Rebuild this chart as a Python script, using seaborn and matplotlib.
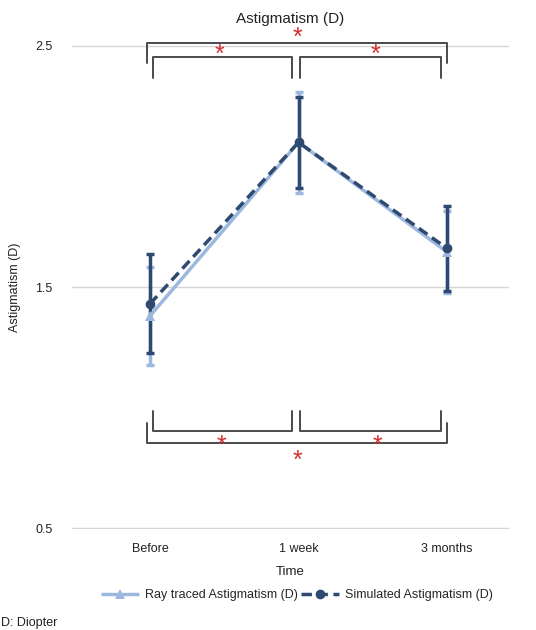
import matplotlib
matplotlib.use("Agg")
import matplotlib.pyplot as plt
import seaborn as sns
import pandas as pd

# values
times = ["Before", "1 week", "3 months"]
ray_mean = [1.38, 2.10, 1.645]
ray_sd = [0.205, 0.21, 0.17]
sim_mean = [1.43, 2.10, 1.66]
sim_sd = [0.205, 0.19, 0.175]
series_names = ["Ray traced Astigmatism (D)", "Simulated Astigmatism (D)"]
y_ticks = [0.5, 1.5, 2.5]

light = "#9db8de"
dark = "#2f4a70"

df = pd.DataFrame({
    "Time": times * 2,
    "value": ray_mean + sim_mean,
    "series": [series_names[0]] * 3 + [series_names[1]] * 3,
})

sns.set_theme(style="white")
plt.rcParams["font.family"] = ["Liberation Sans", "DejaVu Sans"]

fig = plt.figure(figsize=(5.36, 6.3), dpi=100)
ax = fig.add_axes([72 / 536, 1 - 529 / 630, (509 - 72) / 536, (529 - 45) / 630])

# error bars first so the lines sit on top
ax.errorbar(range(3), ray_mean, yerr=ray_sd, fmt="none", ecolor=light,
            elinewidth=2.5, capsize=3, capthick=2.5, zorder=2)
ax.errorbar(range(3), sim_mean, yerr=sim_sd, fmt="none", ecolor=dark,
            elinewidth=2.5, capsize=3, capthick=2.5, zorder=3)

sns.lineplot(data=df, x="Time", y="value", hue="series", style="series",
             palette=[light, dark], markers=["^", "o"], dashes=[(1, 0), (3, 1.6)],
             markersize=7, markeredgewidth=0, linewidth=2.5, sort=False,
             ax=ax, zorder=4)

ax.set_xlim(-0.525, 2.417)
ax.set_ylim(0.496, 2.504)
ax.set_yticks(y_ticks)
ax.set_yticklabels([f"{t:.1f}" for t in y_ticks])
ax.grid(axis="y", color="#d6d6d6", linewidth=1)
ax.grid(axis="x", visible=False)
for s in ax.spines.values():
    s.set_visible(False)
ax.tick_params(axis="both", length=0, labelsize=9, colors="#222222")
ax.tick_params(axis="y", pad=14)
ax.tick_params(axis="x", pad=10)
ax.set_xlabel("Time", fontsize=9.5, color="#222222", labelpad=8)
ax.set_ylabel("Astigmatism (D)", fontsize=9, color="#222222", labelpad=10)
ax.set_title("Astigmatism (D)", fontsize=11, color="#222222", pad=16)

# significance brackets
bk = "#4a4a4a"
def bracket(x0, x1, y, tip):
    ax.plot([x0, x0, x1, x1], [tip, y, y, tip], color=bk, linewidth=1.4,
            clip_on=False, zorder=5)

bracket(-0.02, 2.0, 2.512, 2.429)
bracket(0.02, 0.956, 2.454, 2.367)
bracket(1.01, 1.96, 2.454, 2.367)
bracket(-0.02, 2.0, 0.853, 0.936)
bracket(0.02, 0.956, 0.902, 0.985)
bracket(1.01, 1.96, 0.902, 0.985)

star = dict(color="#d03030", fontsize=18, ha="center", va="center", zorder=6)
ax.text(0.99, 2.535, "*", **star)
ax.text(0.47, 2.462, "*", **star)
ax.text(1.52, 2.462, "*", **star)
ax.text(0.48, 0.84, "*", **star)
ax.text(1.53, 0.84, "*", **star)
ax.text(0.99, 0.78, "*", **star)

handles, labels = ax.get_legend_handles_labels()
ax.legend(handles, labels, loc="center", bbox_to_anchor=(297 / 536, 1 - 595 / 630),
          bbox_transform=fig.transFigure, ncol=2, frameon=False, fontsize=9,
          handlelength=3, columnspacing=0.3, handletextpad=0.5)

fig.text(1 / 536, 1 - 623 / 630, "D: Diopter", fontsize=9, color="#222222",
         ha="left", va="center")

fig.savefig("out.png", dpi=100)
